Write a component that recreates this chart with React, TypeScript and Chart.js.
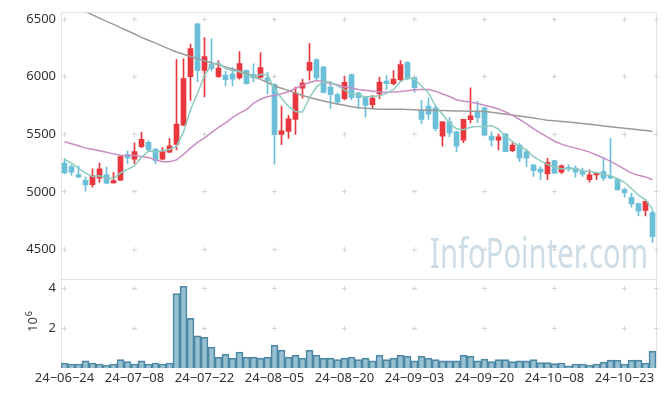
import React, { useEffect, useRef } from 'react';
import { Chart, registerables } from 'chart.js';

Chart.register(...registerables);

const dates = [
  '24-06-24','24-06-25','24-06-26','24-06-27','24-06-28','24-07-01','24-07-02','24-07-03','24-07-04','24-07-05',
  '24-07-08','24-07-09','24-07-10','24-07-11','24-07-12','24-07-15','24-07-16','24-07-17','24-07-18','24-07-19',
  '24-07-22','24-07-23','24-07-24','24-07-25','24-07-26','24-07-29','24-07-30','24-07-31','24-08-01','24-08-02',
  '24-08-05','24-08-06','24-08-07','24-08-08','24-08-09','24-08-12','24-08-13','24-08-14','24-08-16','24-08-19',
  '24-08-20','24-08-21','24-08-22','24-08-23','24-08-26','24-08-27','24-08-28','24-08-29','24-08-30','24-09-02',
  '24-09-03','24-09-04','24-09-05','24-09-06','24-09-09','24-09-10','24-09-11','24-09-12','24-09-13','24-09-19',
  '24-09-20','24-09-23','24-09-24','24-09-25','24-09-26','24-09-27','24-09-30','24-10-02','24-10-04','24-10-07',
  '24-10-08','24-10-10','24-10-11','24-10-14','24-10-15','24-10-16','24-10-17','24-10-18','24-10-21','24-10-22',
  '24-10-23','24-10-24','24-10-25','24-10-28','24-10-29',
];

const open = [
  5250,5220,5150,5100,5062,5120,5148,5078,5102,5325,
  5285,5392,5430,5372,5283,5345,5413,5580,6000,6460,
  6055,6110,6000,6015,6025,5990,6055,6022,5995,5990,
  5935,5500,5525,5630,5900,6055,6150,6085,5910,5845,
  5810,6020,5858,5823,5757,5852,5962,5940,5975,6125,
  5990,5708,5745,5728,5485,5608,5521,5450,5628,5703,
  5730,5485,5450,5502,5358,5407,5350,5234,5197,5155,
  5272,5171,5214,5206,5177,5105,5148,5177,5134,5111,
  5020,4953,4898,4838,4820,
];
const high = [
  5290,5235,5225,5130,5200,5250,5215,5170,5312,5355,
  5425,5520,5445,5375,5385,5465,6150,6155,6285,6465,
  6340,6330,6140,6050,6080,6220,6060,6112,6210,6040,
  5940,5745,5665,5910,5980,6290,6155,6090,5940,5860,
  6000,6025,5866,5825,5838,5996,6010,6053,6140,6133,
  5996,5795,5818,5743,5610,5645,5525,5631,5905,5786,
  5737,5521,5502,5510,5427,5421,5364,5240,5220,5292,
  5277,5234,5234,5226,5206,5191,5170,5298,5465,5120,
  5033,4990,4900,4933,4840,
];
const low = [
  5155,5145,5125,5005,5040,5085,5068,5075,5097,5245,
  5245,5385,5350,5243,5278,5340,5365,5575,5795,5955,
  5825,6050,5995,5920,5920,5980,5935,5955,5990,5850,
  5240,5410,5465,5500,5815,5970,5975,5858,5725,5760,
  5800,5800,5725,5650,5725,5810,5887,5930,5960,5973,
  5866,5595,5630,5530,5398,5480,5350,5427,5600,5602,
  5490,5398,5364,5349,5350,5263,5220,5134,5105,5105,
  5157,5157,5177,5128,5134,5085,5105,5100,5114,5013,
  4953,4867,4790,4790,4560,
];
const close = [
  5165,5170,5128,5060,5140,5200,5076,5098,5306,5295,
  5350,5456,5365,5272,5349,5400,5590,5985,6245,6055,
  6175,6070,6075,5975,5980,6115,5940,5990,6080,5965,
  5500,5530,5635,5858,5945,6125,5990,5865,5845,5780,
  5952,5820,5818,5752,5815,5953,5940,5980,6105,5982,
  5905,5630,5675,5550,5608,5513,5398,5630,5660,5645,
  5493,5450,5479,5350,5407,5292,5292,5185,5171,5257,
  5163,5226,5197,5171,5154,5148,5163,5120,5120,5020,
  4990,4895,4832,4918,4610,
];
const volume = [
  250000,200000,200000,360000,250000,200000,150000,200000,420000,320000,
  200000,360000,200000,250000,200000,250000,3750000,4120000,2500000,1620000,
  1550000,1050000,550000,700000,500000,800000,550000,550000,500000,550000,
  1150000,900000,550000,650000,500000,900000,650000,500000,500000,420000,
  500000,550000,420000,500000,360000,650000,420000,500000,650000,600000,
  360000,600000,500000,420000,360000,360000,360000,650000,600000,360000,
  450000,320000,420000,420000,320000,360000,360000,420000,270000,270000,
  220000,250000,110000,200000,200000,150000,200000,300000,400000,400000,
  200000,400000,400000,250000,850000,
];
const ma5 = [
  5283,5249,5206,5163,5133,5140,5121,5115,5164,5195,
  5225,5301,5354,5348,5358,5368,5395,5519,5714,5855,
  6010,6106,6124,6070,6055,6043,6017,6000,6021,6018,
  5895,5813,5742,5698,5694,5819,5911,5957,5954,5921,
  5886,5852,5843,5824,5831,5832,5856,5888,5959,5992,
  5982,5920,5859,5748,5674,5595,5549,5540,5562,5569,
  5565,5576,5545,5483,5436,5396,5364,5305,5269,5239,
  5214,5200,5203,5203,5182,5179,5167,5151,5141,5114,
  5083,5029,4971,4931,4849,
];
const ma20 = [
  5435,5418,5400,5380,5370,5358,5345,5330,5318,5315,
  5315,5308,5298,5278,5262,5262,5278,5325,5380,5430,
  5468,5515,5560,5600,5645,5685,5715,5770,5805,5829,
  5838,5852,5870,5900,5925,5950,5967,5958,5942,5930,
  5912,5902,5890,5882,5875,5868,5866,5868,5872,5878,
  5888,5890,5890,5875,5850,5829,5800,5788,5780,5768,
  5752,5737,5720,5695,5665,5630,5590,5550,5510,5475,
  5440,5415,5395,5380,5365,5345,5320,5295,5265,5232,
  5198,5163,5145,5130,5105,
];
const ma60 = [
  6650,6622,6594,6566,6538,6510,6482,6455,6427,6400,
  6372,6342,6317,6292,6266,6240,6216,6196,6177,6158,
  6140,6122,6104,6086,6068,6050,6028,6004,5978,5950,
  5920,5900,5880,5858,5838,5820,5805,5790,5776,5764,
  5752,5740,5730,5726,5722,5718,5717,5717,5717,5716,
  5714,5712,5710,5708,5706,5705,5703,5702,5701,5700,
  5698,5692,5684,5676,5668,5660,5650,5641,5632,5623,
  5617,5611,5606,5600,5595,5588,5580,5573,5566,5559,
  5553,5546,5540,5534,5527,
];

const priceTicks = [4500, 5000, 5500, 6000, 6500];
const volumeTicks = [2000000, 4000000];
const xTickEvery = 10;
const watermarkText = 'InfoPointer.com';

const UP = '#e8373d';
const DOWN = '#6cbfd9';
const FONT = '"Noto Sans", "DejaVu Sans", sans-serif';

export default function App() {
  const ref = useRef<HTMLCanvasElement>(null);

  useEffect(() => {
    if (!ref.current) return;
    const colors = close.map((c, i) => (c >= open[i] ? UP : DOWN));

    const overlay = {
      id: 'overlay',
      beforeDatasetsDraw(chart: any) {
        const { ctx, chartArea } = chart;
        const xs = chart.scales.x;
        const yp = chart.scales.y;
        const yv = chart.scales.yv;
        ctx.save();

        // watermark
        ctx.save();
        ctx.font = `41px ${FONT}`;
        const tw = ctx.measureText(watermarkText).width;
        ctx.translate(648, 268);
        ctx.scale(218 / tw, 1);
        ctx.fillStyle = 'rgba(170,198,215,0.6)';
        ctx.textAlign = 'right';
        ctx.textBaseline = 'alphabetic';
        ctx.fillText(watermarkText, 0, 0);
        ctx.restore();

        // frame
        ctx.strokeStyle = '#e2e2e2';
        ctx.lineWidth = 1;
        const L = Math.floor(chartArea.left) + 0.5;
        const R = Math.floor(chartArea.right) + 0.5;
        const T = Math.floor(chartArea.top) + 0.5;
        const B = Math.floor(chartArea.bottom) - 0.5;
        const D = Math.floor(yp.bottom) + 0.5;
        ctx.beginPath();
        ctx.moveTo(L, T); ctx.lineTo(R, T); ctx.lineTo(R, B);
        ctx.moveTo(L, T); ctx.lineTo(L, B);
        ctx.moveTo(L, D); ctx.lineTo(R, D);
        ctx.stroke();

        // grid crosses
        ctx.strokeStyle = '#d6d6d6';
        const xPx: number[] = [];
        dates.forEach((_, i) => {
          if (i % xTickEvery === 0) xPx.push(xs.getPixelForValue(i));
        });
        xPx.push(chartArea.right);
        const yPx = [
          ...priceTicks.map((v) => yp.getPixelForValue(v)),
          ...volumeTicks.map((v) => yv.getPixelForValue(v)),
        ];
        ctx.beginPath();
        for (const x0 of xPx) {
          const x = Math.floor(x0) + 0.5;
          for (const y0 of yPx) {
            const y = Math.floor(y0) + 0.5;
            ctx.moveTo(x - 2.5, y); ctx.lineTo(x + 2.5, y);
            ctx.moveTo(x, y - 2.5); ctx.lineTo(x, y + 2.5);
          }
        }
        ctx.stroke();
        ctx.restore();
      },
      afterDraw(chart: any) {
        const { ctx } = chart;
        ctx.save();
        ctx.translate(37, 332);
        ctx.rotate(-Math.PI / 2);
        ctx.fillStyle = '#333';
        ctx.textAlign = 'left';
        ctx.textBaseline = 'alphabetic';
        ctx.font = `13px ${FONT}`;
        ctx.fillText('10', 0, 0);
        const w10 = ctx.measureText('10').width;
        ctx.font = `9px ${FONT}`;
        ctx.fillText('6', w10 + 1, -5);
        ctx.restore();
      },
    };

    const tickFont = { family: FONT, size: 13 };

    const chart = new Chart(ref.current, {
      type: 'bar',
      data: {
        labels: dates,
        datasets: [
          {
            type: 'line',
            data: ma5,
            yAxisID: 'y',
            borderColor: '#8ccbbf',
            borderWidth: 1.5,
            pointRadius: 0,
            tension: 0,
            order: 1,
          } as any,
          {
            type: 'line',
            data: ma20,
            yAxisID: 'y',
            borderColor: '#c98cc2',
            borderWidth: 1.5,
            pointRadius: 0,
            tension: 0,
            order: 1,
          } as any,
          {
            type: 'line',
            data: ma60,
            yAxisID: 'y',
            borderColor: '#9a9a9a',
            borderWidth: 1.5,
            pointRadius: 0,
            tension: 0,
            order: 1,
          } as any,
          {
            type: 'bar',
            data: open.map((o, i) => [o, close[i]]),
            yAxisID: 'y',
            backgroundColor: colors,
            barThickness: 5,
            grouped: false,
            order: 2,
          } as any,
          {
            type: 'bar',
            data: low.map((l, i) => [l, high[i]]),
            yAxisID: 'y',
            backgroundColor: colors,
            barThickness: 1,
            grouped: false,
            order: 3,
          } as any,
          {
            type: 'bar',
            data: volume,
            yAxisID: 'yv',
            backgroundColor: 'rgba(70,140,170,0.55)',
            borderColor: '#4f88a6',
            borderWidth: 1,
            categoryPercentage: 1,
            barPercentage: 1,
            grouped: false,
            order: 4,
          } as any,
        ],
      },
      options: {
        responsive: false,
        animation: false,
        layout: { padding: { top: 10, right: 9, bottom: 0, left: 0 } },
        plugins: { legend: { display: false }, tooltip: { enabled: false } },
        scales: {
          x: {
            type: 'category',
            offset: true,
            grid: { display: false, drawTicks: false },
            border: { display: false },
            ticks: {
              autoSkip: false,
              maxRotation: 0,
              minRotation: 0,
              padding: 2,
              color: '#333',
              font: tickFont,
              callback: (_v: any, i: number) =>
                i % xTickEvery === 0 ? dates[i].replace(/-/g, '\u2212') : '',
            },
            afterFit: (s: any) => { s.height = 28; },
          },
          y: {
            type: 'linear',
            position: 'left',
            stack: 'main',
            stackWeight: 3,
            weight: 1,
            min: 4241,
            max: 6556,
            grid: { display: false, drawTicks: false },
            border: { display: false },
            afterBuildTicks: (s: any) => { s.ticks = priceTicks.map((v) => ({ value: v })); },
            ticks: { padding: 5, color: '#333', font: tickFont, callback: (v: any) => String(v) },
            afterFit: (s: any) => { s.width = 61; },
          },
          yv: {
            type: 'linear',
            position: 'left',
            stack: 'main',
            stackWeight: 1,
            weight: 0,
            min: 0,
            max: 4475000,
            grid: { display: false, drawTicks: false },
            border: { display: false },
            afterBuildTicks: (s: any) => { s.ticks = volumeTicks.map((v) => ({ value: v })); },
            ticks: { padding: 5, color: '#333', font: tickFont, callback: (v: any) => String(v / 1000000) },
            afterFit: (s: any) => { s.width = 61; },
          },
        },
      } as any,
      plugins: [overlay],
    });

    return () => chart.destroy();
  }, []);

  return (
    <div style={{ position: 'fixed', left: 0, top: 0, width: 665, height: 396, background: '#fff' }}>
      <canvas ref={ref} width={665} height={396} />
    </div>
  );
}
